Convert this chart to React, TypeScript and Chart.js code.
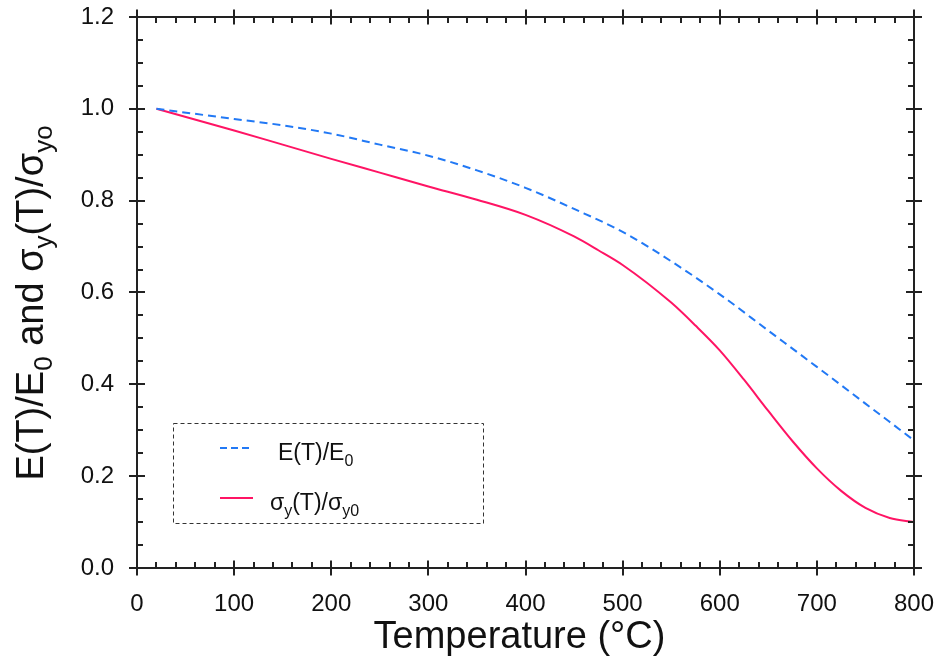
import React, { useEffect, useRef } from "react";
import { Chart, registerables } from "chart.js";

Chart.register(...registerables);

// Temperature (°C) and normalised elastic modulus E(T)/E0
const temperatureE = [20, 100, 150, 200, 250, 300, 350, 400, 450, 500, 550, 600, 650, 700, 750, 800];
const modulusRatio = [1.0, 0.978, 0.964, 0.946, 0.922, 0.898, 0.866, 0.828, 0.782, 0.732, 0.668, 0.596, 0.517, 0.438, 0.358, 0.278];

// Temperature (°C) and normalised yield strength σy(T)/σy0
const temperatureS = [20, 100, 150, 200, 250, 300, 350, 400, 450, 475, 500, 550, 575, 600, 625, 650, 675, 700, 725, 750, 775, 800];
const yieldRatio = [1.0, 0.953, 0.922, 0.891, 0.861, 0.831, 0.802, 0.769, 0.722, 0.692, 0.66, 0.578, 0.528, 0.474, 0.41, 0.342, 0.276, 0.217, 0.168, 0.131, 0.109, 0.1];

const xTickStep = 100;
const xMinorStep = 20;
const yTickStep = 0.2;
const yMinorStep = 0.05;

const FONT = "'Liberation Sans', Arial, Helvetica, sans-serif";
const BLUE = "#2279f5";
const RED = "#ff1464";
const AXIS = "#222";

type Part = { t: string; sub?: boolean };

const yTitleParts: Part[] = [
  { t: "E(T)/E" }, { t: "0", sub: true }, { t: " and σ" }, { t: "y", sub: true },
  { t: "(T)/σ" }, { t: "yo", sub: true },
];
const legendE: Part[] = [{ t: "E(T)/E" }, { t: "0", sub: true }];
const legendS: Part[] = [{ t: "σ" }, { t: "y", sub: true }, { t: "(T)/σ" }, { t: "y0", sub: true }];

function partFont(size: number, sub?: boolean) {
  return `${sub ? Math.round(size * 0.68) : size}px ${FONT}`;
}

function richWidth(ctx: CanvasRenderingContext2D, parts: Part[], size: number) {
  let w = 0;
  for (const p of parts) {
    ctx.font = partFont(size, p.sub);
    w += ctx.measureText(p.t).width;
  }
  return w;
}

function drawRich(ctx: CanvasRenderingContext2D, parts: Part[], x: number, y: number, size: number) {
  let cx = x;
  ctx.textBaseline = "alphabetic";
  ctx.textAlign = "left";
  for (const p of parts) {
    ctx.font = partFont(size, p.sub);
    ctx.fillText(p.t, cx, y + (p.sub ? size * 0.24 : 0));
    cx += ctx.measureText(p.t).width;
  }
}

const decorPlugin = {
  id: "decor",
  afterDraw(chart: any) {
    const ctx: CanvasRenderingContext2D = chart.ctx;
    const { left, right, top, bottom } = chart.chartArea;
    const xs = chart.scales.x;
    const ys = chart.scales.y;
    ctx.save();
    ctx.strokeStyle = AXIS;
    ctx.lineWidth = 2;
    ctx.strokeRect(left, top, right - left, bottom - top);

    // x ticks (bottom & top)
    const nx = Math.round((xs.max - xs.min) / xMinorStep);
    const perMajorX = Math.round(xTickStep / xMinorStep);
    ctx.beginPath();
    for (let i = 0; i <= nx; i++) {
      const v = xs.min + i * xMinorStep;
      const px = Math.round(xs.getPixelForValue(v));
      if (i % perMajorX === 0) {
        ctx.moveTo(px, bottom - 7.5); ctx.lineTo(px, bottom + 7.5);
        ctx.moveTo(px, top - 7.5); ctx.lineTo(px, top + 7.5);
      } else {
        ctx.moveTo(px, bottom - 6); ctx.lineTo(px, bottom);
        ctx.moveTo(px, top); ctx.lineTo(px, top + 6);
      }
    }
    // y ticks (left & right)
    const ny = Math.round((ys.max - ys.min) / yMinorStep);
    const perMajorY = Math.round(yTickStep / yMinorStep);
    for (let i = 0; i <= ny; i++) {
      const v = ys.min + i * yMinorStep;
      const py = Math.round(ys.getPixelForValue(v));
      if (i % perMajorY === 0) {
        ctx.moveTo(left - 8, py); ctx.lineTo(left + 8, py);
        ctx.moveTo(right - 8, py); ctx.lineTo(right + 8, py);
      } else {
        ctx.moveTo(left, py); ctx.lineTo(left + 6, py);
        ctx.moveTo(right - 6, py); ctx.lineTo(right, py);
      }
    }
    ctx.stroke();

    // Axis titles
    ctx.fillStyle = "#111";
    const titleSize = 38;
    ctx.font = `${titleSize}px ${FONT}`;
    ctx.textAlign = "center";
    ctx.textBaseline = "alphabetic";
    ctx.fillText("Temperature (°C)", (left + right) / 2 - 6, 648);

    ctx.save();
    ctx.translate(43, 303);
    ctx.rotate(-Math.PI / 2);
    const tw = richWidth(ctx, yTitleParts, titleSize);
    drawRich(ctx, yTitleParts, -tw / 2, 0, titleSize);
    ctx.restore();

    // Legend box
    const lx = left + 36, ly = top + 406, lw = 310, lh = 100;
    ctx.strokeStyle = "#333";
    ctx.lineWidth = 1;
    ctx.setLineDash([4, 3]);
    ctx.strokeRect(lx + 0.5, ly + 0.5, lw, lh);

    ctx.lineWidth = 2;
    ctx.strokeStyle = BLUE;
    ctx.setLineDash([7, 4]);
    ctx.beginPath();
    ctx.moveTo(lx + 47, ly + 25); ctx.lineTo(lx + 80, ly + 25);
    ctx.stroke();
    ctx.setLineDash([]);
    ctx.strokeStyle = RED;
    ctx.beginPath();
    ctx.moveTo(lx + 47, ly + 75); ctx.lineTo(lx + 80, ly + 75);
    ctx.stroke();

    ctx.fillStyle = "#111";
    drawRich(ctx, legendE, lx + 105, ly + 37, 23);
    drawRich(ctx, legendS, lx + 97, ly + 87, 23);
    ctx.restore();
  },
};

function zeroPadding(s: any) {
  s.paddingTop = 0;
  s.paddingBottom = 0;
  s.paddingLeft = 0;
  s.paddingRight = 0;
}

export default function App() {
  const ref = useRef<HTMLCanvasElement | null>(null);
  useEffect(() => {
    if (!ref.current) return;
    const chart = new Chart(ref.current, {
      type: "line",
      data: {
        datasets: [
          {
            label: "E(T)/E0",
            data: temperatureE.map((t, i) => ({ x: t, y: modulusRatio[i] })),
            borderColor: BLUE,
            borderWidth: 2,
            borderDash: [8, 5],
            pointRadius: 0,
            fill: false,
            cubicInterpolationMode: "monotone",
          },
          {
            label: "σy(T)/σy0",
            data: temperatureS.map((t, i) => ({ x: t, y: yieldRatio[i] })),
            borderColor: RED,
            borderWidth: 2,
            pointRadius: 0,
            fill: false,
            cubicInterpolationMode: "monotone",
          },
        ],
      },
      options: {
        animation: false,
        responsive: false,
        layout: { padding: { top: 17, right: 26, left: 0, bottom: 0 } },
        plugins: { legend: { display: false }, tooltip: { enabled: false } },
        scales: {
          x: {
            type: "linear",
            min: 0,
            max: 800,
            grid: { display: false, drawTicks: false },
            border: { display: false },
            ticks: {
              stepSize: xTickStep,
              autoSkip: false,
              maxRotation: 0,
              padding: 22,
              color: "#111",
              font: { size: 24, family: FONT },
            },
            afterFit: (s: any) => { s.height = 96; zeroPadding(s); },
          },
          y: {
            type: "linear",
            min: 0,
            max: 1.2,
            grid: { display: false, drawTicks: false },
            border: { display: false },
            ticks: {
              stepSize: yTickStep,
              autoSkip: false,
              padding: 23,
              color: "#111",
              font: { size: 24, family: FONT },
              callback: (v: any) => Number(v).toFixed(1),
            },
            afterFit: (s: any) => { s.width = 137; zeroPadding(s); },
          },
        },
      },
      plugins: [decorPlugin],
    } as any);
    return () => chart.destroy();
  }, []);
  return (
    <div style={{ position: "absolute", left: 0, top: 0, width: 940, height: 664, background: "#fff" }}>
      <canvas ref={ref} width={940} height={664} style={{ display: "block" }} />
    </div>
  );
}
